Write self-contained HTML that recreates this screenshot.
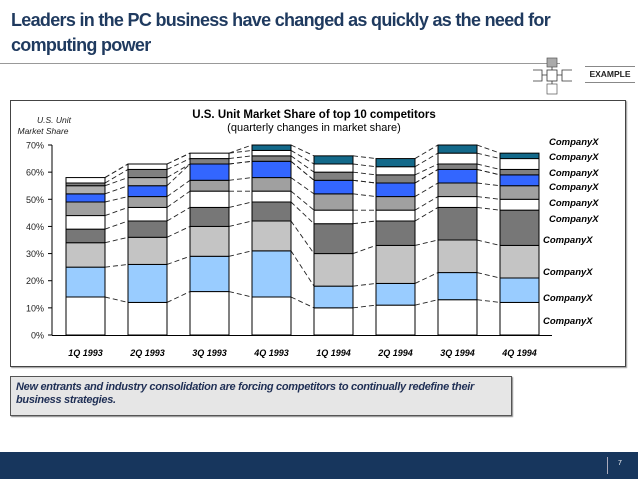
<!DOCTYPE html>
<html><head><meta charset="utf-8"><style>
body{margin:0;width:638px;height:479px;position:relative;background:#fff;font-family:"Liberation Sans",Arial,sans-serif;overflow:hidden}
.abs{position:absolute}
</style></head><body>
<div class="abs" style="left:11px;top:8px;width:627px;font-size:18px;font-weight:bold;color:#1f3a5f;line-height:25px;letter-spacing:-0.7px">Leaders in the PC business have changed as quickly as the need for computing power</div>
<div class="abs" style="left:0;top:63px;width:560px;height:1px;background:#999"></div>
<svg class="abs" style="left:530px;top:55px" width="50" height="45">
<rect x="17" y="3" width="10" height="9" fill="#aaa" stroke="#555" stroke-width="0.7"/>
<rect x="17" y="15" width="10" height="11" fill="#fff" stroke="#333" stroke-width="0.8"/>
<rect x="17" y="29" width="10" height="10" fill="#fff" stroke="#555" stroke-width="0.7"/>
<path d="M3 15H12V26H3 M42 15H32V26H42" fill="none" stroke="#333" stroke-width="0.8"/>
<path d="M12 20H17 M27 20H32 M22 12V15 M22 26V29" stroke="#333" stroke-width="0.8"/>
</svg>
<div class="abs" style="left:585px;top:66px;width:50px;border-top:1.5px solid #888;border-bottom:1.5px solid #888;font-size:8.5px;font-weight:bold;color:#222;text-align:center;line-height:15px">EXAMPLE</div>
<div class="abs" style="left:10px;top:100px;width:614px;height:265px;border:1px solid #444;box-shadow:1px 1px 1px #999"></div>
<svg class="abs" id="chart" style="left:0;top:0" width="638" height="479"></svg>
<div class="abs" style="left:10px;top:376px;width:500px;height:38px;background:#e6e6e6;border:1px solid #555;box-shadow:1px 1px 1px #888"></div>
<div class="abs" style="left:16px;top:381px;width:490px;font-size:11px;font-weight:bold;font-style:italic;color:#1f2f55;line-height:13px;letter-spacing:-0.3px">New entrants and industry consolidation are forcing competitors to continually redefine their business strategies.</div>
<div class="abs" style="left:0;top:452px;width:638px;height:27px;background:#17365d"></div>
<div class="abs" style="left:607px;top:457px;width:1px;height:17px;background:#aab"></div>
<div class="abs" style="left:618px;top:460px;font-size:7px;color:#fff">7</div>
<script>
const categories=["1Q 1993","2Q 1993","3Q 1993","4Q 1993","1Q 1994","2Q 1994","3Q 1994","4Q 1994"];
const s1=[14,12,16,14,10,11,13,12];
const s2=[11,14,13,17,8,8,10,9];
const s3=[9,10,11,11,12,14,12,12];
const s4=[5,6,7,7,11,9,12,13];
const s5=[5,5,6,4,5,4,4,4];
const s6=[5,4,4,5,6,5,5,5];
const s7=[3,4,6,6,5,5,5,4];
const s8=[3,3,0,0,0,0,0,0];
const s9=[1,3,2,2,3,3,2,2];
const s10=[2,2,2,2,3,3,4,4];
const s11=[0,0,0,2,3,3,3,2];
const series=[s1,s2,s3,s4,s5,s6,s7,s8,s9,s10,s11];
const colors=["#ffffff","#99ccff","#c4c4c4","#777777","#ffffff","#a0a0a0","#3366ff","#b0b0b0","#808080","#ffffff","#13698a"];
const yTicks=[0,10,20,30,40,50,60,70];
const labelNames=["CompanyX","CompanyX","CompanyX","CompanyX","CompanyX","CompanyX","CompanyX","CompanyX","CompanyX","CompanyX"];
const NS="http://www.w3.org/2000/svg";
const svg=document.getElementById("chart");
const y0=335,pxPer=190/70;
function yS(v){return y0-v*pxPer;}
function xS(i){return 66+i*62;}
const bw=39;
function mk(t,a,p){const e=document.createElementNS(NS,t);for(const k in a)e.setAttribute(k,a[k]);(p||svg).appendChild(e);return e;}
function txt(x,y,s,a){const e=mk("text",Object.assign({x:x,y:y},a));e.textContent=s;return e;}
let t=txt(314,118,"U.S. Unit Market Share of top 10 competitors",{"font-size":"11.5","font-weight":"bold","text-anchor":"middle",fill:"#000"});


t=txt(314,131,"(quarterly changes in market share)",{"font-size":"11","text-anchor":"middle",fill:"#000"});


t=txt(54,123,"U.S. Unit",{"font-size":"8.5","font-style":"italic","text-anchor":"middle",fill:"#222"});


t=txt(43,134,"Market Share",{"font-size":"8.5","font-style":"italic","text-anchor":"middle",fill:"#222"});


const cum=categories.map((c,i)=>{let a=[0];series.forEach(s=>a.push(a[a.length-1]+s[i]));return a;});
for(let i=0;i<categories.length-1;i++){
  for(let k=1;k<=series.length;k++){
    const l=mk("line",{x1:xS(i)+bw,y1:yS(cum[i][k]),x2:xS(i+1),y2:yS(cum[i+1][k]),stroke:"#222","stroke-width":"0.9","stroke-dasharray":"5,3"});
    
    
  }
}
categories.forEach((c,i)=>{
  series.forEach((s,k)=>{
    if(s[i]<=0)return;
    const r=mk("rect",{x:xS(i),y:yS(cum[i][k+1]),width:bw,height:s[i]*pxPer,fill:colors[k],stroke:"#000","stroke-width":"1"});
    
    
  });
  const l=txt(xS(i)+bw/2,356,c,{"font-size":"9","font-weight":"bold","font-style":"italic","text-anchor":"middle",fill:"#000"});
  
  
});
let ax=mk("line",{x1:52,y1:145,x2:52,y2:335.5,stroke:"#000","stroke-width":"1"});


ax=mk("line",{x1:52,y1:335.5,x2:552,y2:335.5,stroke:"#000","stroke-width":"1"});


yTicks.forEach(v=>{
  const tk=mk("line",{x1:48,y1:yS(v),x2:52,y2:yS(v),stroke:"#000"});
  
  
  const l=txt(44,yS(v)+3.5,v+"%",{"font-size":"9","text-anchor":"end",fill:"#222"});
  
  
});
const labelY=[141,156,172,186,202,218,239,271,297,320];
labelNames.forEach((n,j)=>{
  const l=txt(j<6?549:543,labelY[j]+4,n,{"font-size":"9.5","font-weight":"bold","font-style":"italic",fill:"#000"});
  
  
});
</script>
</body></html>
